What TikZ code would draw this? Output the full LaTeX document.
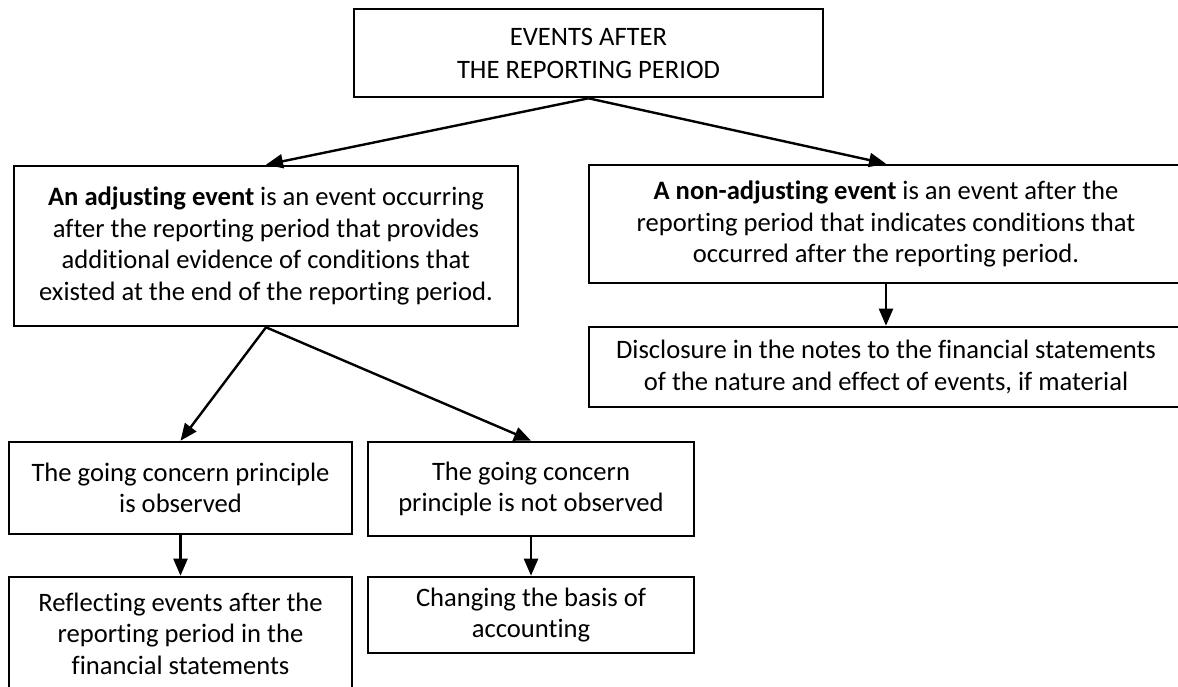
\documentclass[tikz,border=0pt]{standalone}
\usepackage{fontspec}
\setmainfont{Carlito}[Ligatures=NoCommon]
\usetikzlibrary{arrows.meta}

\begin{document}
\begin{tikzpicture}[x=0.5pt,y=-0.5pt,
  box/.style={draw,line width=1.3pt,inner sep=0pt,align=center,font=\fontsize{13.3}{15.8}\selectfont},
  arr/.style={line width=1.2pt,-{Triangle[length=8.5pt,width=7pt]}}]
\useasboundingbox (0,0) rectangle (1178,686);
\clip (0,0) rectangle (1178,686);
\node[box,minimum width=234.5pt,minimum height=44pt,font=\fontsize{13.3}{16.5}\selectfont] (top) at (588.5,53) {EVENTS AFTER\\THE REPORTING PERIOD};
\node[box,minimum width=252pt,minimum height=80pt] (adj) at (266,246) {\textbf{An adjusting event} is an event occurring\\after the reporting period that provides\\additional evidence of conditions that\\existed at the end of the reporting period.};
\node[box,minimum width=297pt,minimum height=59pt] (nonadj) at (886,224) {\textbf{A non-adjusting event} is an event after the\\reporting period that indicates conditions that\\occurred after the reporting period.};
\node[box,minimum width=297pt,minimum height=40pt] (disc) at (886,367) {Disclosure in the notes to the financial statements\\of the nature and effect of events, if material};
\node[box,minimum width=171.5pt,minimum height=46pt] (going1) at (180.5,488) {The going concern principle\\is observed};
\node[box,minimum width=163pt,minimum height=47pt] (going2) at (531,489) {The going concern\\principle is not observed};
\node[box,minimum width=171.5pt,minimum height=56.5pt] (reflect) at (180.5,633.5) {Reflecting events after the\\reporting period in the\\financial statements};
\node[box,minimum width=163pt,minimum height=38pt] (change) at (531,615) {Changing the basis of\\accounting};
\draw[arr] (top.south) -- (adj.north);
\draw[arr] (top.south) -- (nonadj.north);
\draw[arr] (nonadj.south) -- (disc.north);
\draw[arr] (adj.south) -- (going1.north);
\draw[arr] (adj.south) -- (going2.north);
\draw[arr] (going1.south) -- (reflect.north);
\draw[arr] (going2.south) -- (change.north);
\end{tikzpicture}
\end{document}
